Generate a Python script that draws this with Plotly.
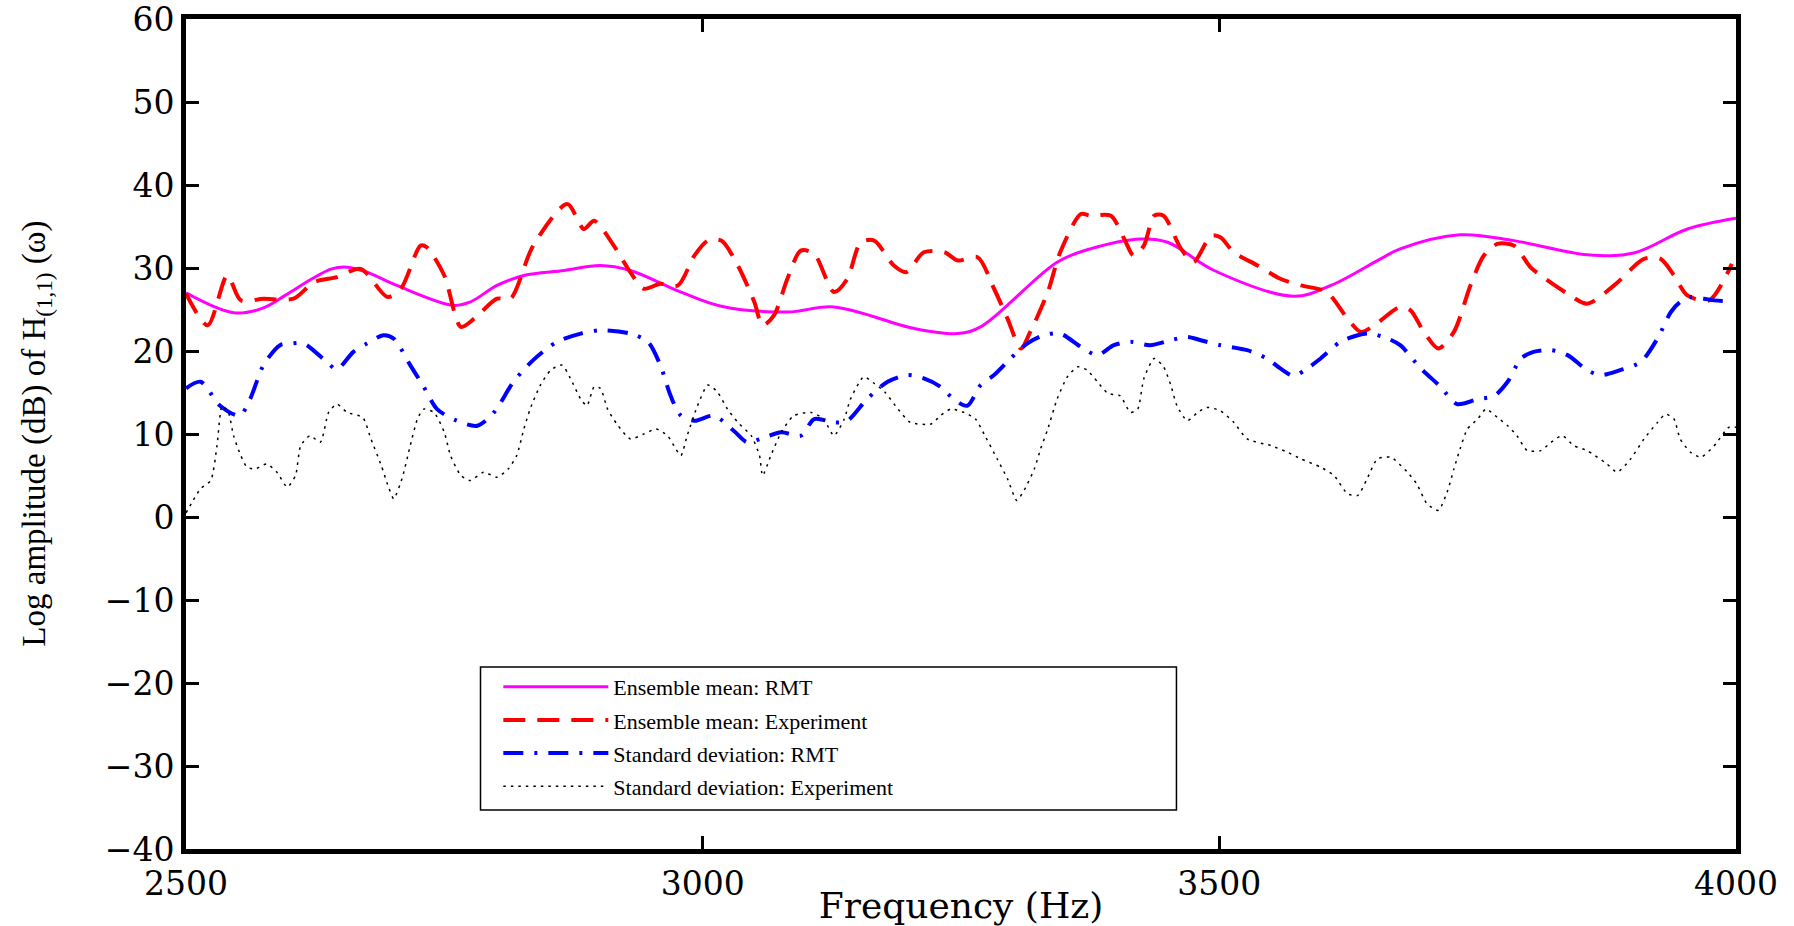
import plotly.graph_objects as go

# ---- data ----
f_rmt_mean = [2500, 2546, 2573, 2596, 2622, 2641, 2656, 2675, 2704, 2759, 2775, 2801, 2827, 2866, 2901,
              2930, 2979, 3018, 3082, 3127, 3205, 3247, 3269, 3343, 3375, 3424, 3450, 3495, 3572, 3608,
              3656, 3675, 3733, 3785, 3856, 3901, 3953, 4000]
rmt_mean = [27.0, 24.6, 25.1, 26.7, 28.7, 29.9, 30.1, 29.5, 27.9, 25.5, 25.9, 27.9, 29.1, 29.7, 30.3,
            29.7, 27.1, 25.4, 24.7, 25.3, 22.7, 22.1, 22.9, 30.7, 32.3, 33.5, 33.1, 29.7, 26.6, 27.9,
            31.1, 32.3, 34.0, 33.3, 31.6, 31.8, 34.7, 36.0]

f_exp_mean = [2500, 2521, 2540, 2553, 2575, 2604, 2624, 2646, 2669, 2695, 2708, 2727, 2733, 2750, 2766,
              2779, 2801, 2814, 2836, 2869, 2885, 2895, 2914, 2930, 2943, 2959, 2976, 2992, 3005, 3018,
              3034, 3050, 3058, 3069, 3082, 3095, 3108, 3127, 3140, 3153, 3166, 3185, 3197, 3214, 3234,
              3247, 3266, 3282, 3295, 3308, 3317, 3334, 3346, 3366, 3375, 3395, 3408, 3417, 3427, 3437,
              3446, 3463, 3475, 3492, 3501, 3514, 3537, 3559, 3579, 3604, 3624, 3637, 3650, 3675, 3685,
              3698, 3712, 3727, 3743, 3756, 3769, 3785, 3801, 3811, 3837, 3856, 3882, 3911, 3927, 3940,
              3953, 3974, 3996]
exp_mean = [26.9, 23.1, 29.1, 26.1, 26.3, 26.3, 28.3, 28.9, 29.9, 26.5, 27.5, 32.7, 32.5, 29.1, 22.9,
            23.9, 26.3, 26.3, 32.7, 37.7, 34.7, 35.7, 32.7, 29.5, 27.5, 28.1, 27.9, 31.5, 33.3, 33.3,
            30.3, 25.9, 23.1, 24.3, 28.7, 32.1, 31.7, 27.1, 28.7, 33.1, 33.3, 30.3, 29.5, 31.9, 31.9,
            30.9, 31.3, 27.5, 23.9, 20.3, 22.3, 27.1, 31.9, 36.5, 36.3, 36.3, 33.5, 31.5, 32.7, 36.3,
            36.3, 32.3, 30.7, 33.9, 33.7, 31.9, 30.3, 28.7, 27.9, 27.1, 23.9, 22.3, 23.1, 25.3, 24.9,
            22.3, 20.3, 22.3, 27.9, 31.5, 32.9, 32.7, 30.1, 29.1, 26.9, 25.7, 27.9, 31.1, 31.1, 29.1,
            26.7, 26.1, 30.5]

f_rmt_std = [2500, 2514, 2533, 2552, 2562, 2575, 2591, 2601, 2614, 2636, 2646, 2662, 2675, 2691, 2701,
             2717, 2730, 2743, 2762, 2782, 2798, 2817, 2836, 2859, 2882, 2901, 2930, 2947, 2959, 2969,
             2979, 2992, 3011, 3030, 3043, 3056, 3076, 3095, 3108, 3127, 3140, 3159, 3179, 3198, 3214,
             3230, 3243, 3256, 3269, 3282, 3298, 3314, 3330, 3346, 3366, 3382, 3398, 3414, 3433, 3453,
             3469, 3482, 3501, 3527, 3546, 3559, 3572, 3585, 3598, 3617, 3634, 3646, 3663, 3675, 3695,
             3714, 3730, 3750, 3766, 3779, 3792, 3804, 3821, 3837, 3856, 3869, 3888, 3908, 3924, 3937,
             3946, 3956, 3969, 3979, 3995]
rmt_std = [15.5, 16.3, 13.4, 12.2, 14.2, 18.3, 20.7, 20.9, 20.9, 18.7, 17.8, 19.9, 20.9, 21.9, 21.5,
           18.3, 15.7, 13.0, 11.6, 11.0, 12.6, 16.3, 18.9, 21.1, 22.1, 22.5, 22.1, 21.1, 18.3, 14.6,
           12.2, 11.6, 12.2, 10.4, 9.0, 9.4, 10.2, 9.8, 11.8, 11.4, 11.6, 14.2, 16.3, 17.1, 16.7,
           15.7, 14.2, 13.4, 15.9, 17.1, 19.1, 20.9, 21.9, 22.1, 20.5, 19.5, 20.7, 21.1, 20.7, 21.3,
           21.7, 21.3, 20.7, 20.1, 19.1, 17.9, 17.0, 17.9, 19.1, 21.1, 21.9, 22.1, 21.5, 20.7, 17.9,
           15.7, 13.6, 14.2, 14.6, 16.3, 19.1, 19.9, 20.1, 19.5, 17.7, 17.1, 17.7, 18.7, 21.5, 24.7,
           25.9, 26.5, 26.3, 26.1, 26.0]

f_exp_std = [2500, 2507, 2514, 2524, 2530, 2535, 2541, 2546, 2553, 2559, 2567, 2578, 2588, 2598, 2606,
             2611, 2620, 2630, 2638, 2646, 2656, 2671, 2679, 2689, 2696, 2701, 2709, 2717, 2724, 2730,
             2740, 2750, 2756, 2766, 2775, 2788, 2801, 2812, 2820, 2827, 2833, 2843, 2853, 2864, 2872,
             2882, 2888, 2895, 2901, 2908, 2917, 2930, 2943, 2955, 2966, 2974, 2979, 2985, 2995, 3005,
             3014, 3024, 3034, 3047, 3055, 3058, 3066, 3076, 3088, 3105, 3117, 3127, 3137, 3143, 3156,
             3166, 3176, 3189, 3201, 3221, 3230, 3240, 3253, 3264, 3274, 3285, 3295, 3304, 3311, 3321,
             3327, 3334, 3343, 3353, 3363, 3372, 3382, 3392, 3404, 3414, 3421, 3427, 3437, 3446, 3453,
             3459, 3469, 3479, 3488, 3501, 3514, 3527, 3550, 3566, 3579, 3598, 3611, 3624, 3634, 3643,
             3653, 3666, 3682, 3691, 3701, 3712, 3721, 3727, 3733, 3740, 3750, 3758, 3769, 3779, 3788,
             3798, 3811, 3821, 3832, 3843, 3856, 3875, 3885, 3898, 3911, 3924, 3932, 3940, 3946, 3956,
             3966, 3979, 3993, 4000]
exp_std = [0.5, 2.0, 3.4, 4.4, 8.6, 13.4, 12.6, 9.8, 7.4, 6.0, 5.8, 6.4, 5.4, 3.6, 5.0,
           8.6, 9.8, 9.0, 12.6, 13.6, 12.6, 12.0, 9.4, 6.2, 3.6, 2.2, 4.6, 8.6, 11.8, 13.0,
           12.6, 10.2, 7.4, 5.0, 4.4, 5.4, 4.8, 5.8, 7.4, 10.6, 13.0, 15.9, 17.7, 18.3, 16.7,
           14.2, 13.4, 15.7, 15.5, 13.0, 11.2, 9.4, 10.0, 10.6, 9.8, 8.2, 7.4, 9.8, 13.4, 15.9,
           15.1, 13.0, 11.4, 9.8, 7.4, 5.0, 7.4, 10.2, 12.2, 12.6, 11.8, 9.8, 11.8, 14.2, 16.9,
           16.1, 15.1, 13.0, 11.4, 11.2, 12.2, 13.0, 12.6, 11.8, 9.6, 7.0, 4.6, 2.0, 3.2, 5.8,
           8.2, 10.6, 14.2, 16.9, 18.1, 17.7, 16.3, 14.9, 14.6, 12.6, 13.0, 16.7, 19.1, 18.1, 15.9,
           13.4, 11.6, 12.6, 13.2, 12.8, 11.4, 9.4, 8.6, 7.8, 7.0, 6.0, 5.0, 2.8, 2.6, 4.6,
           7.0, 7.2, 5.4, 4.0, 1.6, 0.8, 3.2, 5.8, 8.2, 10.6, 11.8, 13.0, 12.0, 11.0, 9.8,
           8.0, 8.0, 9.0, 9.8, 8.6, 8.0, 6.4, 5.4, 7.0, 9.4, 11.4, 12.4, 11.8, 9.4, 7.8,
           7.2, 8.6, 10.8, 10.8]

x_ticks = [2500, 3000, 3500, 4000]
y_ticks = [-40, -30, -20, -10, 0, 10, 20, 30, 40, 50, 60]

series_names = ["Ensemble mean: RMT", "Ensemble mean: Experiment",
                "Standard deviation: RMT", "Standard deviation: Experiment"]

# ---- figure ----
fig = go.Figure()
fig.add_trace(go.Scatter(x=f_rmt_mean, y=rmt_mean, mode="lines", name=series_names[0],
                         legendgroup="a", line=dict(color="#FF00FF", width=3, shape="spline", smoothing=1.0)))
fig.add_trace(go.Scatter(x=f_exp_mean, y=exp_mean, mode="lines", name=series_names[1],
                         legendgroup="b", line=dict(color="#FF0000", width=4, dash="22px,12px",
                                                    shape="spline", smoothing=0.8)))
fig.add_trace(go.Scatter(x=f_rmt_std, y=rmt_std, mode="lines", name=series_names[2],
                         legendgroup="c", line=dict(color="#0000FF", width=4, dash="20px,11px,3px,11px",
                                                    shape="spline", smoothing=0.8)))
fig.add_trace(go.Scatter(x=f_exp_std, y=exp_std, mode="lines", name=series_names[3],
                         legendgroup="d", line=dict(color="#000000", width=1.5, dash="2.5px,5px",
                                                    shape="spline", smoothing=0.6)))

axis_common = dict(showline=True, linewidth=5, linecolor="black", mirror="ticks",
                   ticks="inside", ticklen=13, tickwidth=3, tickcolor="black",
                   showgrid=False, zeroline=False, automargin=False, ticklabeloverflow="allow",
                   tickfont=dict(family="DejaVu Serif", size=33, color="black"))

fig.update_xaxes(range=[2500, 4000], tickvals=x_ticks, **axis_common, ticklabelstandoff=1,
                 title=dict(text="Frequency (Hz)", font=dict(family="DejaVu Serif", size=36, color="black"),
                            standoff=4))
fig.update_yaxes(range=[-40, 60], tickvals=y_ticks, **axis_common)

fig.add_annotation(text="Log amplitude (dB) of H<sub>(1,1)</sub> (ω)", textangle=-90,
                   xref="paper", yref="paper", x=-0.097, y=0.5, xanchor="center", yanchor="middle",
                   showarrow=False, font=dict(family="Liberation Serif", size=33, color="black"))

# legend frame
fig.add_shape(type="rect", xref="paper", yref="paper", x0=0.19, x1=0.639, y0=0.047, y1=0.2194,
              line=dict(color="black", width=1.5), fillcolor="white", layer="above")

fig.update_layout(
    width=1794, height=926,
    margin=dict(l=186, r=58, t=19, b=77, autoexpand=False),
    paper_bgcolor="white", plot_bgcolor="white",
    showlegend=True,
    legend=dict(x=0.2015, y=0.2204, xanchor="left", yanchor="top", bgcolor="rgba(0,0,0,0)",
                borderwidth=0, font=dict(family="Liberation Serif", size=22, color="black"),
                itemwidth=105, tracegroupgap=1.5, traceorder="grouped"),
)

fig.write_html("out.html")
